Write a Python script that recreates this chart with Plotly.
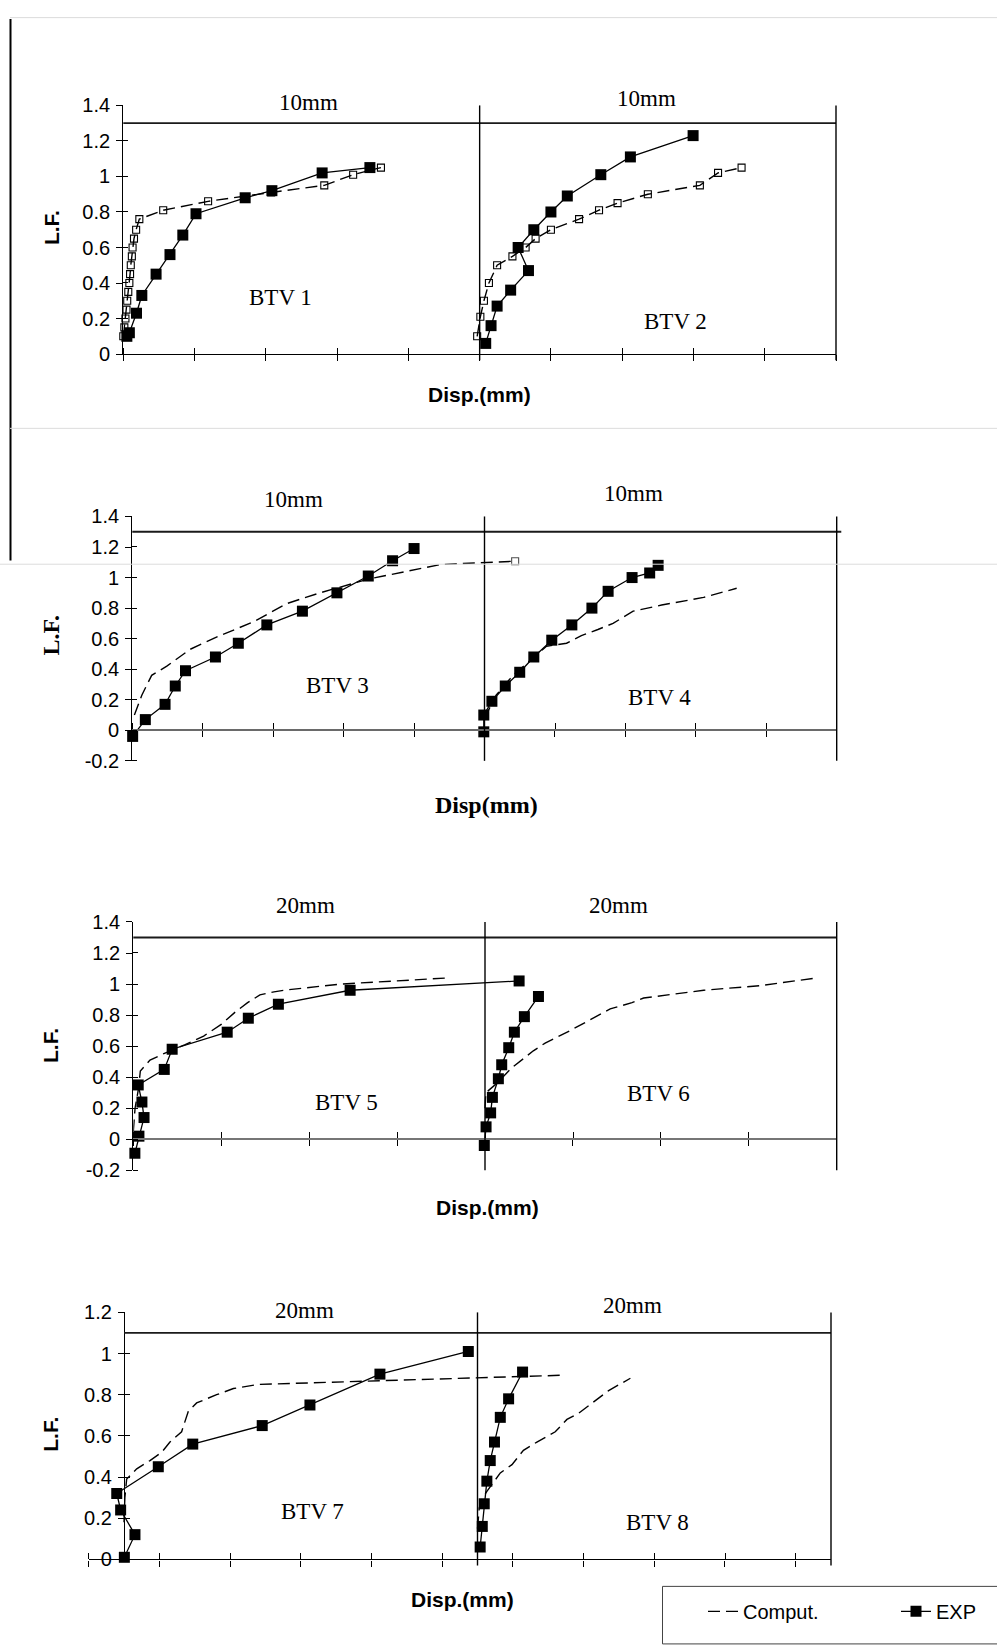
import plotly.graph_objects as go

W, H = 997, 1648

# ---------------- data: displacement (mm) vs load factor ----------------
# right-hand specimen of each panel is stored in its own local mm and shifted by the half width
btv1_exp_x = [-0.04, 0.10, 0.17, 0.37, 0.52, 0.92, 1.31, 1.67, 2.04, 3.42, 4.17, 5.58, 6.92]
btv1_exp_y = [0.10, 0.10, 0.12, 0.23, 0.33, 0.45, 0.56, 0.67, 0.79, 0.88, 0.92, 1.02, 1.05]
btv1_comp_x = [0.00, 0.03, 0.06, 0.09, 0.11, 0.14, 0.17, 0.19, 0.21, 0.24, 0.26, 0.30, 0.36, 0.45,
               1.12, 2.38, 4.15, 5.64, 6.45, 7.23]
btv1_comp_y = [0.10, 0.15, 0.20, 0.25, 0.30, 0.35, 0.40, 0.45, 0.50, 0.55, 0.60, 0.65, 0.70, 0.76,
               0.81, 0.86, 0.91, 0.95, 1.01, 1.05]

btv2_exp_x = [0.17, 0.32, 0.49, 0.87, 1.37, 1.08, 1.52, 2.00, 2.46, 3.40, 4.23, 5.99]
btv2_exp_y = [0.06, 0.16, 0.27, 0.36, 0.47, 0.60, 0.70, 0.80, 0.89, 1.01, 1.11, 1.23]
btv2_comp_x = [-0.07, 0.02, 0.12, 0.26, 0.49, 0.92, 1.29, 1.57, 2.00, 2.79, 3.35, 3.87, 4.72,
               6.18, 6.69, 7.35]
btv2_comp_y = [0.10, 0.21, 0.30, 0.40, 0.50, 0.55, 0.60, 0.65, 0.70, 0.76, 0.81, 0.85, 0.90,
               0.95, 1.02, 1.05]

btv3_exp_x = [0.01, 0.37, 0.93, 1.22, 1.51, 2.36, 3.01, 3.82, 4.83, 5.81, 6.70, 7.39, 8.00]
btv3_exp_y = [-0.04, 0.07, 0.17, 0.29, 0.39, 0.48, 0.57, 0.69, 0.78, 0.90, 1.01, 1.11, 1.19]
btv3_comp_x = [0.06, 0.27, 0.55, 0.98, 1.64, 2.49, 3.44, 4.39, 5.33, 6.28, 6.70, 7.13, 8.74, 10.87]
btv3_comp_y = [0.10, 0.23, 0.36, 0.42, 0.53, 0.62, 0.71, 0.83, 0.90, 0.96, 0.99, 1.01, 1.085, 1.107]

btv4_exp_x = [-0.02, -0.02, 0.21, 0.59, 1.00, 1.40, 1.91, 2.48, 3.05, 3.51, 4.19, 4.69, 4.93]
btv4_exp_y = [-0.01, 0.10, 0.19, 0.29, 0.38, 0.48, 0.59, 0.69, 0.80, 0.91, 1.00, 1.03, 1.08]
btv4_comp_x = [0.00, 0.33, 0.81, 1.42, 1.76, 2.33, 2.75, 3.22, 3.65, 4.22, 5.03, 6.22, 7.16]
btv4_comp_y = [0.08, 0.23, 0.36, 0.48, 0.55, 0.57, 0.62, 0.66, 0.70, 0.78, 0.82, 0.87, 0.93]

btv5_exp_x = [0.09, 0.32, 0.61, 0.49, 0.28, 1.76, 2.21, 5.34, 6.54, 8.25, 12.33, 21.94]
btv5_exp_y = [-0.09, 0.02, 0.14, 0.24, 0.35, 0.45, 0.58, 0.69, 0.78, 0.87, 0.96, 1.02]
btv5_comp_x = [0.00, 0.10, 0.30, 0.40, 0.95, 1.70, 2.95, 4.00, 5.00, 5.80, 6.50, 7.20, 8.00, 8.55,
               11.80, 18.00]
btv5_comp_y = [0.05, 0.20, 0.33, 0.44, 0.51, 0.55, 0.61, 0.665, 0.74, 0.82, 0.88, 0.93, 0.95, 0.96,
               1.00, 1.04]

btv6_exp_x = [-0.04, 0.06, 0.32, 0.42, 0.76, 0.95, 1.35, 1.67, 2.24, 3.04]
btv6_exp_y = [-0.04, 0.08, 0.17, 0.27, 0.39, 0.48, 0.59, 0.69, 0.79, 0.92]
btv6_comp_x = [0.00, 0.05, 0.67, 1.52, 2.75, 3.42, 4.84, 5.98, 7.12, 8.36, 9.02, 12.44, 15.67, 18.90]
btv6_comp_y = [0.20, 0.30, 0.36, 0.46, 0.57, 0.62, 0.70, 0.77, 0.84, 0.88, 0.91, 0.96, 0.99, 1.04]

btv7_exp_x = [0.02, 0.62, -0.19, -0.41, 1.94, 3.89, 7.82, 10.52, 14.48, 19.48]
btv7_exp_y = [0.01, 0.12, 0.24, 0.32, 0.45, 0.56, 0.65, 0.75, 0.90, 1.01]
btv7_comp_x = [0.00, 0.05, 0.15, 0.72, 1.47, 2.13, 2.60, 3.26, 3.64, 4.11, 5.24, 6.19, 7.60, 24.95]
btv7_comp_y = [0.18, 0.30, 0.39, 0.44, 0.48, 0.52, 0.57, 0.62, 0.72, 0.76, 0.80, 0.83, 0.85, 0.895]

btv8_exp_x = [0.15, 0.27, 0.38, 0.53, 0.72, 0.96, 1.29, 1.76, 2.55]
btv8_exp_y = [0.06, 0.16, 0.27, 0.38, 0.48, 0.57, 0.69, 0.78, 0.91]
btv8_comp_x = [0.00, 0.10, 0.30, 0.53, 1.29, 1.95, 2.60, 3.36, 4.40, 5.06, 5.72, 6.66, 7.42, 8.65]
btv8_comp_y = [0.15, 0.25, 0.30, 0.33, 0.42, 0.46, 0.53, 0.57, 0.62, 0.68, 0.71, 0.77, 0.82, 0.88]

specimen_names = ["BTV 1", "BTV 2", "BTV 3", "BTV 4", "BTV 5", "BTV 6", "BTV 7", "BTV 8"]
half_width_mm = [10, 10, 20, 20]
half_labels = ["10mm", "10mm", "20mm", "20mm"]
limit_levels = [1.3, 1.3, 1.3, 1.1]

x_ticks = [
    [0, 2, 4, 6, 8, 10, 12, 14, 16, 18, 20],
    [0, 2, 4, 6, 8, 10, 12, 14, 16, 18, 20],
    [0, 5, 10, 15, 20, 25, 30, 35, 40],
    [-2, 2, 6, 10, 14, 18, 22, 26, 30, 34, 38],
]
y_tick_vals = [
    [0, 0.2, 0.4, 0.6, 0.8, 1.0, 1.2, 1.4],
    [-0.2, 0, 0.2, 0.4, 0.6, 0.8, 1.0, 1.2, 1.4],
    [-0.2, 0, 0.2, 0.4, 0.6, 0.8, 1.0, 1.2, 1.4],
    [0, 0.2, 0.4, 0.6, 0.8, 1.0, 1.2],
]
y_tick_text = [
    ["0", "0.2", "0.4", "0.6", "0.8", "1", "1.2", "1.4"],
    ["-0.2", "0", "0.2", "0.4", "0.6", "0.8", "1", "1.2", "1.4"],
    ["-0.2", "0", "0.2", "0.4", "0.6", "0.8", "1", "1.2", "1.4"],
    ["0", "0.2", "0.4", "0.6", "0.8", "1", "1.2"],
]
y_titles = ["L.F.", "L.F.", "L.F.", "L.F."]
x_titles = ["Disp.(mm)", "Disp(mm)", "Disp.(mm)", "Disp.(mm)"]
legend_names = ["Comput.", "EXP"]

pairs = [
    ((btv1_exp_x, btv1_exp_y, btv1_comp_x, btv1_comp_y), (btv2_exp_x, btv2_exp_y, btv2_comp_x, btv2_comp_y)),
    ((btv3_exp_x, btv3_exp_y, btv3_comp_x, btv3_comp_y), (btv4_exp_x, btv4_exp_y, btv4_comp_x, btv4_comp_y)),
    ((btv5_exp_x, btv5_exp_y, btv5_comp_x, btv5_comp_y), (btv6_exp_x, btv6_exp_y, btv6_comp_x, btv6_comp_y)),
    ((btv7_exp_x, btv7_exp_y, btv7_comp_x, btv7_comp_y), (btv8_exp_x, btv8_exp_y, btv8_comp_x, btv8_comp_y)),
]

# ---------------- layout geometry (pixels) ----------------
SANS = "Liberation Sans, Arial, sans-serif"
SERIF = "Liberation Serif, Times New Roman, serif"


def fx(px):
    return px / W


def fy(py):
    return 1 - py / H


panels = [
    dict(xpx=(123.3, 836.0), ypx=(347.7, 95.7), xr=[0, 20], yr=[0, 1.4], xzero=False, yfree=False,
         xcol="black", xlw=1.3, ext=-0.025, serif_titles=False),
    dict(xpx=(132.3, 836.7), ypx=(760.0, 512.3), xr=[0, 20], yr=[-0.2, 1.4], xzero=True, yfree=False,
         xcol="#6a6a6a", xlw=2.0, ext=0.0, serif_titles=True),
    dict(xpx=(133.3, 836.7), ypx=(1175.0, 923.3), xr=[0, 40], yr=[-0.2, 1.4], xzero=True, yfree=False,
         xcol="#767676", xlw=2.0, ext=0.0, serif_titles=False),
    dict(xpx=(88.65, 831.0), ypx=(1569.3, 1319.0), xr=[-2, 40], yr=[0, 1.2], xzero=False, yfree=True,
         xcol="black", xlw=1.3, ext=-0.025, serif_titles=False),
]

text_pos = [
    dict(h1=(308, 92.5), h2=(646.5, 89), s1=(280, 290), s2=(675, 314.5), yt=(51, 220), xt=(479, 389)),
    dict(h1=(293, 495), h2=(633.5, 489.5), s1=(337, 683.5), s2=(659.5, 696), yt=(51, 633), xt=(486, 805)),
    dict(h1=(305, 906.5), h2=(618, 906.5), s1=(346, 1106.5), s2=(658, 1097.5), yt=(51, 1049), xt=(487, 1213)),
    dict(h1=(304, 1317), h2=(632.7, 1312.5), s1=(312, 1521), s2=(657.5, 1532), yt=(51, 1443), xt=(462, 1610)),
]

fig = go.Figure()
layout = dict(width=W, height=H, margin=dict(l=0, r=0, t=0, b=0), autosize=False,
              paper_bgcolor="white", plot_bgcolor="rgba(0,0,0,0)", showlegend=True)
shapes = []
annotations = []

for i, p in enumerate(panels):
    k = i + 1
    xs = "" if k == 1 else str(k)
    xref, yref = "x" + xs, "y" + xs
    x0p, x1p = p["xpx"]
    yb, yt = p["ypx"]
    xr, yr = p["xr"], p["yr"]
    xspan = xr[1] - xr[0]
    yspan = yr[1] - yr[0]
    eps_x = xspan * 1e-4
    eps_y = yspan * 1e-4

    xa = dict(domain=[fx(x0p), fx(x1p)], range=xr, tickmode="array", tickvals=x_ticks[i],
              ticks="outside", ticklen=6, tickwidth=1.2, tickcolor="black", showticklabels=False,
              showline=True, linecolor=p["xcol"], linewidth=p["xlw"], showgrid=False, zeroline=False,
              minor=dict(tickmode="array", tickvals=[v + eps_x for v in x_ticks[i]], ticks="inside",
                         ticklen=6, tickwidth=1.2, tickcolor="black", showgrid=False))
    if p["xzero"]:
        zero_frac = (0 - yr[0]) / yspan
        xa["anchor"] = "free"
        xa["position"] = fy(yb) + zero_frac * (fy(yt) - fy(yb))
    else:
        xa["anchor"] = yref

    ya = dict(domain=[fy(yb), fy(yt)], range=yr, tickmode="array", tickvals=y_tick_vals[i],
              ticktext=y_tick_text[i], ticks="outside", ticklen=6, tickwidth=1.2, tickcolor="black",
              tickfont=dict(family=SANS, size=20, color="black"), ticklabelstandoff=2,
              showline=True, linecolor="black", linewidth=1.3, showgrid=False, zeroline=False,
              minor=dict(tickmode="array", tickvals=[v + eps_y for v in y_tick_vals[i]], ticks="inside",
                         ticklen=5, tickwidth=1.2, tickcolor="black", showgrid=False))
    if p["yfree"]:
        xa_frac = (0 - xr[0]) / xspan
        ya["anchor"] = "free"
        ya["position"] = fx(x0p) + xa_frac * (fx(x1p) - fx(x0p))
    else:
        ya["anchor"] = xref

    layout["xaxis" + xs] = xa
    layout["yaxis" + xs] = ya

    # traces
    half = half_width_mm[i]
    for j, (ex, ey, cx, cy) in enumerate(pairs[i]):
        shift = half * j
        sidx = 2 * i + j
        comp_kwargs = dict(line=dict(color="black", width=1.4, dash="12px,6px"))
        if i == 0:
            comp_kwargs["mode"] = "lines+markers"
            comp_kwargs["marker"] = dict(symbol="square-open", size=7, color="black",
                                         line=dict(width=1.1, color="black"))
        elif sidx == 2:
            comp_kwargs["mode"] = "lines+markers"
            comp_kwargs["marker"] = dict(symbol="square-open", color="black",
                                         size=[0] * (len(cx) - 1) + [7], line=dict(width=1.1))
        else:
            comp_kwargs["mode"] = "lines"
        fig.add_trace(go.Scatter(
            x=[v + shift for v in cx], y=cy, xaxis=xref, yaxis=yref, cliponaxis=False,
            name=legend_names[0], showlegend=(sidx == 3), legend="legend", **comp_kwargs))
        fig.add_trace(go.Scatter(
            x=[v + shift for v in ex], y=ey, xaxis=xref, yaxis=yref, cliponaxis=False,
            mode="lines+markers", line=dict(color="black", width=1.3),
            marker=dict(symbol="square", size=11, color="black"),
            name=legend_names[1], showlegend=(sidx == 0), legend="legend2"))

    # limit line, divider, right border
    shapes.append(dict(type="line", xref=xref + " domain", yref=yref,
                       x0=(0 - xr[0]) / xspan, x1=1.0065 if k == 2 else 1.0,
                       y0=limit_levels[i], y1=limit_levels[i], line=dict(color="#1a1a1a", width=1.8)))
    for xv in (half, 2 * half):
        shapes.append(dict(type="line", xref=xref + " domain", yref=yref + " domain",
                           x0=(xv - xr[0]) / xspan, x1=(xv - xr[0]) / xspan, y0=p["ext"], y1=1,
                           line=dict(color="black", width=1.4)))

    # texts
    tp = text_pos[i]
    for key, txt in (("h1", half_labels[i]), ("h2", half_labels[i])):
        annotations.append(dict(xref="paper", yref="paper", x=fx(tp[key][0]), y=fy(tp[key][1]),
                                text=txt, showarrow=False, xanchor="center", yanchor="middle",
                                font=dict(family=SERIF, size=23, color="black")))
    for key, txt in (("s1", specimen_names[2 * i]), ("s2", specimen_names[2 * i + 1])):
        annotations.append(dict(xref="paper", yref="paper", x=fx(tp[key][0]), y=fy(tp[key][1]),
                                text=txt, showarrow=False, xanchor="center", yanchor="middle",
                                font=dict(family=SERIF, size=23, color="black")))
    if p["serif_titles"]:
        tfont_y = dict(family=SERIF, size=24, color="black")
        tfont_x = dict(family=SERIF, size=24, color="black")
    else:
        tfont_y = dict(family=SANS, size=21, color="black")
        tfont_x = dict(family=SANS, size=21, color="black")
    annotations.append(dict(xref="paper", yref="paper", x=fx(tp["yt"][0]), y=fy(tp["yt"][1]),
                            text="<b>%s</b>" % y_titles[i], textangle=-90, showarrow=False,
                            xanchor="center", yanchor="middle", font=tfont_y))
    annotations.append(dict(xref="paper", yref="paper", x=fx(tp["xt"][0]), y=fy(tp["xt"][1]),
                            text="<b>%s</b>" % x_titles[i], showarrow=False,
                            xanchor="center", yanchor="middle", font=tfont_x))

# page frame remnants of the scanned sheet
shapes += [
    dict(type="line", xref="paper", yref="paper", x0=fx(10.5), x1=fx(10.5), y0=fy(8), y1=fy(557),
         line=dict(color="black", width=2)),
    dict(type="line", xref="paper", yref="paper", x0=fx(10), x1=fx(997), y0=fy(6.7), y1=fy(6.7),
         line=dict(color="#dcdcdc", width=1)),
    dict(type="line", xref="paper", yref="paper", x0=fx(10), x1=fx(997), y0=fy(423), y1=fy(423),
         line=dict(color="#dcdcdc", width=1)),
    dict(type="line", xref="paper", yref="paper", x0=fx(0), x1=fx(997), y0=fy(560.7), y1=fy(560.7),
         line=dict(color="#dcdcdc", width=1)),
    # legend frame (runs off the sheet)
    dict(type="rect", xref="paper", yref="paper", x0=fx(662.5), x1=fx(1003), y0=fy(1596.7), y1=fy(1655),
         line=dict(color="#444444", width=1), fillcolor="rgba(0,0,0,0)"),
]

layout["shapes"] = shapes
layout["annotations"] = annotations
layout["legend"] = dict(x=fx(703), y=fy(1622), xanchor="left", yanchor="middle", orientation="h",
                        bgcolor="rgba(0,0,0,0)", borderwidth=0,
                        font=dict(family=SANS, size=20, color="black"))
layout["legend2"] = dict(x=fx(896), y=fy(1622), xanchor="left", yanchor="middle", orientation="h",
                         bgcolor="rgba(0,0,0,0)", borderwidth=0,
                         font=dict(family=SANS, size=20, color="black"))

fig.update_layout(**layout)
fig.write_html("out.html", post_script="document.body.style.margin='0';")
